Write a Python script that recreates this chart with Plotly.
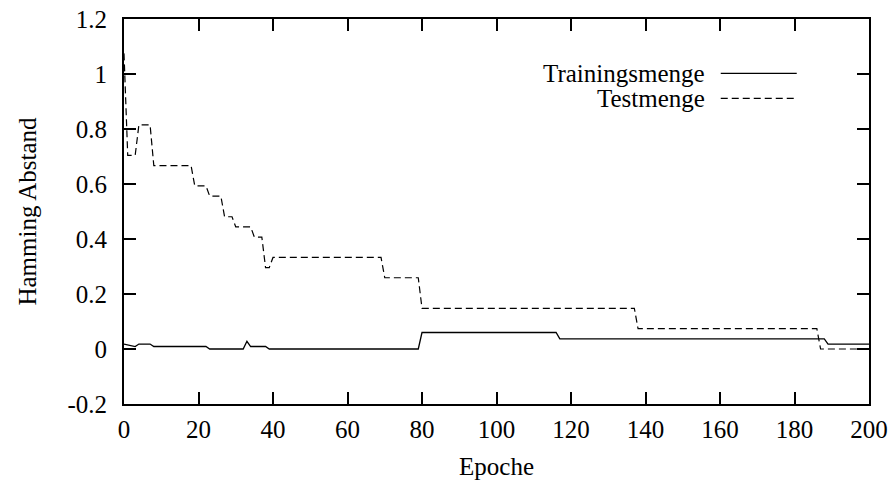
import plotly.graph_objects as go

# Vertices of the curves (epoch, Hamming distance)
train_epochs = [0, 3, 4, 7, 8, 22, 23, 32, 33, 34, 38, 39, 79, 80, 116, 117, 188, 189, 200]
train_values = [0.018, 0.009, 0.018, 0.018, 0.009, 0.009, 0.0, 0.0, 0.028, 0.009, 0.009, 0.0,
                0.0, 0.06, 0.06, 0.037, 0.037, 0.018, 0.018]

test_epochs = [0, 1, 3, 4, 7, 8, 18, 19, 22, 23, 26, 27, 29, 30, 34, 35, 37, 38, 39, 40,
               69, 70, 79, 80, 137, 138, 186, 187, 200]
test_values = [1.075, 0.704, 0.704, 0.815, 0.815, 0.667, 0.667, 0.593, 0.593, 0.556, 0.556,
               0.481, 0.481, 0.444, 0.444, 0.407, 0.407, 0.296, 0.296, 0.333,
               0.333, 0.259, 0.259, 0.148, 0.148, 0.074, 0.074, 0.0, 0.0]

x_ticks = [0, 20, 40, 60, 80, 100, 120, 140, 160, 180, 200]
x_ticklabels = ["0", "20", "40", "60", "80", "100", "120", "140", "160", "180", "200"]
y_ticks = [-0.2, 0, 0.2, 0.4, 0.6, 0.8, 1.0, 1.2]
y_ticklabels = ["-0.2", "0", "0.2", "0.4", "0.6", "0.8", "1", "1.2"]

series_names = ["Trainingsmenge", "Testmenge"]

FONT = "Liberation Serif"
FS = 25

fig = go.Figure()
fig.add_trace(go.Scatter(x=train_epochs, y=train_values, mode="lines", name=series_names[0],
                         line=dict(color="black", width=1.3), showlegend=False))
fig.add_trace(go.Scatter(x=test_epochs, y=test_values, mode="lines", name=series_names[1],
                         line=dict(color="black", width=1.2, dash="7px,4px"), showlegend=False))

# gnuplot-style key: text right-aligned, sample line on the right
key_y = [0.859, 0.794]
key_dash = ["solid", "7px,4px"]
for name, ky, dsh in zip(series_names, key_y, key_dash):
    fig.add_annotation(xref="paper", yref="paper", x=0.782, y=ky, text=name, showarrow=False,
                       xanchor="right", yanchor="middle",
                       font=dict(family=FONT, size=FS, color="black"))
    fig.add_shape(type="line", xref="paper", yref="paper", x0=0.801, x1=0.903, y0=ky, y1=ky,
                  line=dict(color="black", width=1.3, dash=dsh))

axis_common = dict(showgrid=False, zeroline=False, showline=True, linecolor="black", linewidth=2,
                   mirror="allticks", ticks="inside", ticklen=12, tickwidth=1.5, tickcolor="black",
                   automargin=False,
                   tickfont=dict(family=FONT, size=FS, color="black"))

fig.update_layout(
    width=894, height=483,
    margin=dict(l=124, r=25, t=19, b=79),
    paper_bgcolor="white", plot_bgcolor="white",
    font=dict(family=FONT, size=FS, color="black"),
    xaxis=dict(range=[0, 200], tickvals=x_ticks, ticktext=x_ticklabels,
               title=dict(text="Epoche", font=dict(family=FONT, size=FS), standoff=15),
               ticklabelstandoff=2, **axis_common),
    yaxis=dict(range=[-0.2, 1.2], tickvals=y_ticks, ticktext=y_ticklabels,
               title=dict(text="Hamming Abstand", font=dict(family=FONT, size=FS), standoff=24),
               ticklabelstandoff=10, **axis_common),
)

fig.write_html("out.html")
